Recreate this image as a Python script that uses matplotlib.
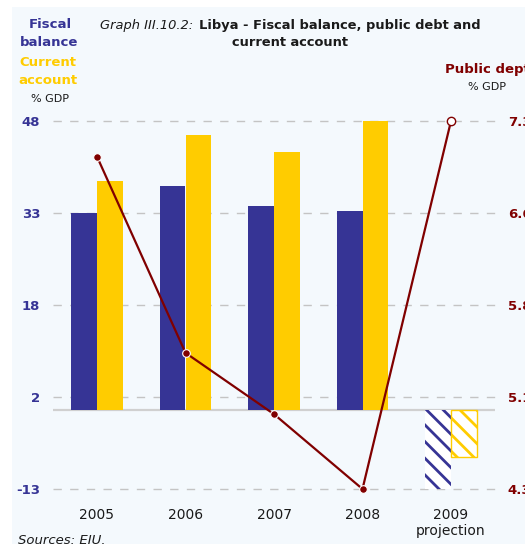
import matplotlib
matplotlib.use("Agg")
import matplotlib.pyplot as plt
from matplotlib.patches import Rectangle
import numpy as np

plt.rcParams['font.family'] = ['DejaVu Sans']
plt.rcParams['hatch.linewidth'] = 2.0

# ---- data -------------------------------------------------------------
years = ["2005", "2006", "2007", "2008", "2009\nprojection"]
fiscal_balance = [32.7, 37.2, 33.9, 33.0, -13.2]      # % GDP
current_account = [38.1, 45.6, 42.9, 48.0, -7.9]      # % GDP
public_debt = [7.01, 5.41, 4.91, 4.30, 7.30]          # % GDP

left_ticks = [-13.2, 2.1, 17.4, 32.7, 48.0]
left_tick_labels = ["-13", "2", "18", "33", "48"]
right_ticks = [4.3, 5.05, 5.8, 6.55, 7.3]
right_tick_labels = ["4.3", "5.1", "5.8", "6.6", "7.3"]

BLUE = "#363495"
YELLOW = "#FFCC00"
DEBT = "#800000"
BG = "#F4F9FD"
GRID = "#C4C4C4"
FS = 9.5
TFS = 9.4

W, H = 525, 544
fig = plt.figure(figsize=(W / 100, H / 100), dpi=100)
fig.patch.set_facecolor("white")
fig.patches.append(Rectangle((12 / W, 0), 1, 1 - 7 / H, transform=fig.transFigure,
                             facecolor=BG, edgecolor="none", zorder=-5))

# axes box: x from 52.75 to 495.25 px, y from 121 to 489 px (top-origin)
ax = fig.add_axes([52.75 / W, (H - 489) / H, (495.25 - 52.75) / W, (489 - 121) / H])
ax.set_facecolor("none")
for s in ax.spines.values():
    s.set_visible(False)

x = np.arange(len(years))
bw = 0.29
n = len(years)
hist = slice(0, n - 1)

ax.bar(x[hist] - bw / 2, fiscal_balance[hist], bw, color=BLUE, zorder=3)
ax.bar(x[hist] + bw / 2, current_account[hist], bw, color=YELLOW, zorder=3)
# projection year: hatched bars
ax.bar(x[-1] - bw / 2, fiscal_balance[-1], bw, facecolor="white", edgecolor=BLUE,
       hatch="\\\\", linewidth=0, zorder=3)
ax.bar(x[-1] + bw / 2, current_account[-1], bw, facecolor="white", edgecolor=YELLOW,
       hatch="\\\\", linewidth=1.0, zorder=3)

ax.set_xlim(-0.5, n - 0.5)
ax.set_ylim(left_ticks[0], left_ticks[-1])
ax.set_yticks(left_ticks)
ax.set_yticklabels(left_tick_labels)
for t in ax.get_yticklabels():
    t.set_color(BLUE)
    t.set_fontweight("bold")
    t.set_fontsize(FS)
ax.tick_params(axis="y", length=0, pad=9)
ax.set_xticks(x)
ax.set_xticklabels(years, fontsize=10, color="#1a1a1a", linespacing=1.1)
ax.tick_params(axis="x", length=0, pad=14)

for yv in left_ticks:
    ax.axhline(yv, color=GRID, lw=1.0, ls=(0, (6, 6)), zorder=1, clip_on=False)
ax.axhline(0, color="#D0D0D0", lw=1.6, zorder=2)

# public debt on the secondary axis
ax2 = ax.twinx()
for s in ax2.spines.values():
    s.set_visible(False)
ax2.set_ylim(right_ticks[0], right_ticks[-1])
ax2.set_yticks(right_ticks)
ax2.set_yticklabels(right_tick_labels)
for t in ax2.get_yticklabels():
    t.set_color(DEBT)
    t.set_fontweight("bold")
    t.set_fontsize(FS)
ax2.tick_params(axis="y", length=0, pad=9)

ax2.plot(x, public_debt, color=DEBT, lw=1.6, zorder=4, clip_on=False)
ax2.plot(x[:-1], public_debt[:-1], "o", ms=5.5, mfc=DEBT, mec="white", mew=0.8,
         zorder=5, clip_on=False)
ax2.plot(x[-1], public_debt[-1], "o", ms=6, mfc="white", mec=DEBT, mew=1.0,
         zorder=5, clip_on=False)

# headers
def ftxt(px, py, s, **kw):
    fig.text(px / W, 1 - py / H, s, **kw)

ftxt(100, 25, "Graph III.10.2:", fontsize=TFS, style="italic", color="#1a1a1a",
     ha="left", va="center")
ftxt(199, 25, "Libya - Fiscal balance, public debt and", fontsize=TFS,
     fontweight="bold", color="#1a1a1a", ha="left", va="center")
ftxt(290, 43, "current account", fontsize=TFS, fontweight="bold",
     color="#1a1a1a", ha="center", va="center")

ftxt(50, 25, "Fiscal", fontsize=FS, fontweight="bold", color=BLUE, ha="center", va="center")
ftxt(49, 43, "balance", fontsize=FS, fontweight="bold", color=BLUE, ha="center", va="center")
ftxt(48, 62, "Current", fontsize=FS, fontweight="bold", color=YELLOW, ha="center", va="center")
ftxt(48, 81, "account", fontsize=FS, fontweight="bold", color=YELLOW, ha="center", va="center")
ftxt(50, 99, "% GDP", fontsize=8, color="#1a1a1a", ha="center", va="center")

ftxt(445, 70, "Public dept", fontsize=FS, fontweight="bold", color=DEBT,
     ha="left", va="center")
ftxt(487, 87, "% GDP", fontsize=8, color="#1a1a1a", ha="center", va="center")

ftxt(18, 540, "Sources: EIU.", fontsize=FS, style="italic", color="#1a1a1a",
     ha="left", va="center")

fig.savefig("out.png", dpi=100, facecolor=fig.get_facecolor())
